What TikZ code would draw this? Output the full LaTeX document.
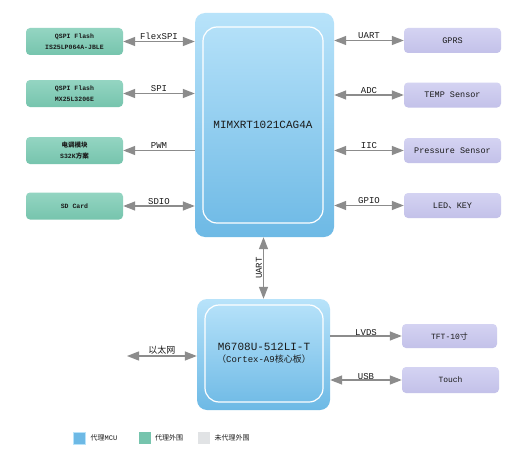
\documentclass[tikz,border=0pt]{standalone}
\usepackage{fontspec}
\setmainfont{Liberation Mono}
\newfontfamily\cjk{Noto Sans CJK SC}
\usepackage{xcolor}
\usetikzlibrary{arrows.meta,positioning}
\definecolor{mcutop}{HTML}{B8E3FA}
\definecolor{mcubot}{HTML}{6DB9E5}
\definecolor{grntop}{HTML}{94D5C2}
\definecolor{grnbot}{HTML}{76C4AD}
\definecolor{purtop}{HTML}{D4D3F2}
\definecolor{purbot}{HTML}{C3C1E9}
\definecolor{arrgray}{HTML}{8C8C8C}
\definecolor{legray}{HTML}{E1E3E5}
\definecolor{txtdark}{HTML}{1A1A1A}
\tikzset{
	mcubox/.style={
		rectangle,
		rounded corners=10pt,
		top color=mcutop,
		bottom color=mcubot,
		draw=none
	},
	innerbox/.style={
		rectangle,
		rounded corners=14pt,
		draw=white,
		line width=1.2pt,
		align=center,
		inner sep=0pt,
		text=txtdark
	},
	proxybox/.style={
		rectangle,
		rounded corners=4pt,
		top color=grntop,
		bottom color=grnbot,
		minimum width=97pt,
		minimum height=27pt,
		inner sep=0pt,
		align=center,
		text=txtdark,
		font=\fontsize{6.5}{11}\selectfont\bfseries
	},
	periphbox/.style={
		rectangle,
		rounded corners=4pt,
		top color=purtop,
		bottom color=purbot,
		minimum width=97pt,
		minimum height=25pt,
		inner sep=0pt,
		align=center,
		text=txtdark,
		font=\fontsize{8.5}{10}\selectfont
	},
	line/.style={{Triangle[length=12pt,width=9pt]}-{Triangle[length=12pt,width=9pt]},draw=arrgray,line width=1.3pt},
	oneway/.style={-{Triangle[length=12pt,width=9pt]},draw=arrgray,line width=1.3pt},
	lbl/.style={font=\fontsize{9}{10}\selectfont,inner sep=1pt,text=txtdark},
	legendsq/.style={minimum size=12pt,inner sep=0pt},
	legendtxt/.style={font=\fontsize{7}{8}\selectfont,inner sep=0pt,text=txtdark}
}

\begin{document}
\begin{tikzpicture}[x=1pt,y=-1pt]
		\fill[white] (0,0) rectangle (522,452);
		\useasboundingbox (0,0) rectangle (522,452);

		\node[mcubox,minimum width=139pt,minimum height=224pt] (mcu) at (264.5,125) {};
		\node[innerbox,minimum width=120pt,minimum height=196pt,font=\fontsize{11}{12}\selectfont] (mcuin) at (263,125) {MIMXRT1021CAG4A};

		\node[mcubox,minimum width=133pt,minimum height=111pt] (core) at (263.5,354.5) {};
		\node[innerbox,minimum width=118pt,minimum height=97pt,font=\fontsize{11}{12}\selectfont] (corein) at (264,353.5) {M6708U-512LI-T\\{\fontsize{9}{10}\selectfont{\cjk （}Cortex-A9{\cjk 核心板）}}};

		\node[proxybox] (flexflash) at (74.5,41.5) {QSPI Flash\\IS25LP064A-JBLE};
		\node[proxybox] (spiflash) at (74.5,93.5) {QSPI Flash\\MX25L3206E};
		\node[proxybox] (esc) at (74.5,150.5) {{\cjk 电调模块}\\S32K{\cjk 方案}};
		\node[proxybox] (sdcard) at (74.5,206) {SD Card};

		\node[periphbox] (gprs) at (452.5,40.5) {GPRS};
		\node[periphbox] (temp) at (452.5,95) {TEMP Sensor};
		\node[periphbox] (press) at (452.5,150.5) {Pressure Sensor};
		\node[periphbox] (ledkey) at (452.5,205.5) {LED{\cjk 、}KEY};
		\node[periphbox,minimum width=95pt,minimum height=24pt,font=\fontsize{8}{10}\selectfont] (tft) at (449.5,336) {TFT-10{\cjk 寸}};
		\node[periphbox,minimum height=26pt,font=\fontsize{8}{10}\selectfont] (touch) at (450.5,380) {Touch};
		\coordinate (ethend) at (127,356);

		\draw[line] (flexflash.east) -- node[lbl,above]{FlexSPI} (flexflash.east -| mcu.west);
		\draw[line] (spiflash.east) -- node[lbl,above]{SPI} (spiflash.east -| mcu.west);
		\draw[oneway] (esc.east -| mcu.west) -- node[lbl,above]{PWM} (esc.east);
		\draw[line] (sdcard.east) -- node[lbl,above]{SDIO} (sdcard.east -| mcu.west);

		\draw[line] (gprs.west -| mcu.east) -- node[lbl,above]{UART} (gprs.west);
		\draw[line] (temp.west -| mcu.east) -- node[lbl,above]{ADC} (temp.west);
		\draw[line] (press.west -| mcu.east) -- node[lbl,above]{IIC} (press.west);
		\draw[line] (ledkey.west -| mcu.east) -- node[lbl,above]{GPIO} (ledkey.west);

		\draw[line] (core.north) -- node[lbl,rotate=90,anchor=south]{UART} (core.north |- mcu.south);
		\draw[line] (ethend) -- node[lbl,above]{\cjk 以太网} (ethend -| core.west);
		\draw[oneway] (tft.west -| core.east) -- node[lbl,above=-1pt]{LVDS} (tft.west);
		\draw[line] (touch.west -| core.east) -- node[lbl,above=-1pt]{USB} (touch.west);

		\node[legendsq,fill=mcubot,draw=mcutop,line width=1pt] (lgmcu) at (79,438) {};
		\node[legendtxt,right=5pt of lgmcu] (lgmcutxt) {{\cjk 代理}MCU};
		\node[legendsq,fill=grnbot,right=53pt of lgmcu] (lggrn) {};
		\node[legendtxt,right=4pt of lggrn] (lggrntxt) {\cjk 代理外围};
		\node[legendsq,fill=legray,right=47pt of lggrn] (lggray) {};
		\node[legendtxt,right=4pt of lggray] (lggraytxt) {\cjk 未代理外围};
	\end{tikzpicture}
\end{document}
